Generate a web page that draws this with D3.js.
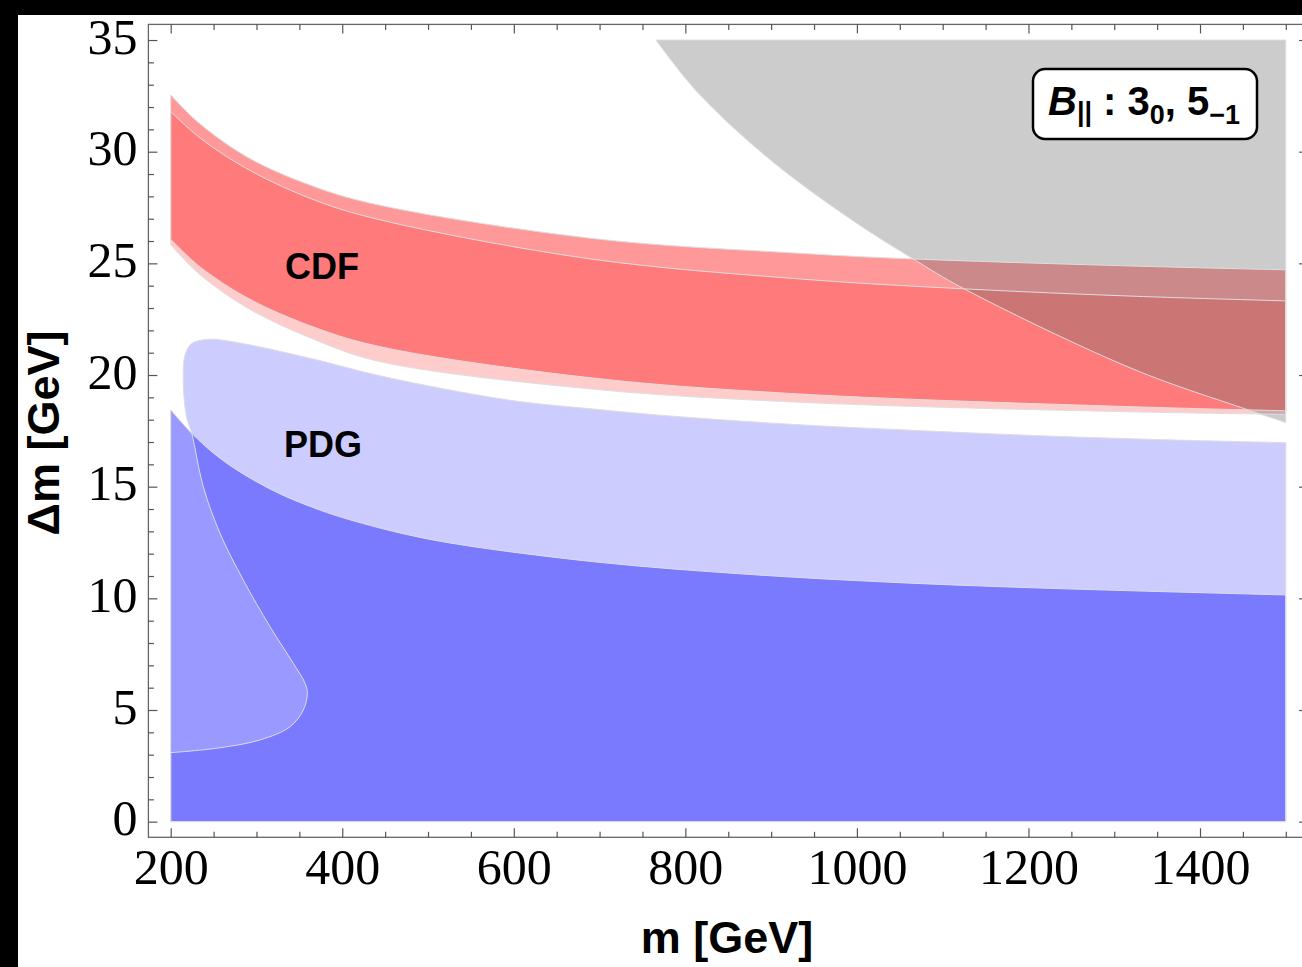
<!DOCTYPE html>
<html>
<head>
<meta charset="utf-8">
<script src="https://cdn.jsdelivr.net/npm/d3@7"></script>
<style>
  body { margin: 0; background: #fff; }
  svg { display: block; }
</style>
</head>
<body>
<div id="chart"></div>
<script>
// region boundaries, as [m, Δm] in GeV

// CDF, wide band (light)
const cdfWideLower = [[200, 25.83], [234, 24.5], [292, 22.95], [370, 21.55], [444, 20.6], [689, 19.38], [934, 18.78], [1322, 18.35], [1500, 18.24]];
const cdfWideUpper = [[200, 31.8], [234, 30.62], [292, 29.17], [370, 27.8], [444, 26.95], [689, 25.2], [934, 24.3], [1124, 23.86], [1322, 23.53], [1500, 23.32]];

// CDF, second band (darker)
const cdfBandLower = [[200, 26.08], [234, 24.85], [292, 23.4], [370, 22.1], [444, 21.27], [689, 19.88], [934, 19.15], [1322, 18.58], [1500, 18.4]];
const cdfBandUpper = [[200, 32.54], [234, 31.25], [292, 29.7], [370, 28.4], [444, 27.6], [695, 26.1], [934, 25.45], [1064, 25.2], [1322, 24.88], [1500, 24.71]];

// PDG, light region: pocket edge then top edge
const pdgOuterEdge = [[200, 3.09], [253.6, 3.29], [304.1, 3.66], [339.1, 4.25], [354.6, 5.0], [359.3, 5.75], [356.6, 6.2], [342.9, 7.09],
  [315.8, 8.73], [284.6, 10.82], [257.5, 12.91], [238, 15.0], [224.5, 17.39], [218.6, 18.1], [214.7, 19.6], [216.7, 20.9],
  [224, 21.4], [234, 21.55], [250, 21.6], [292, 21.35], [370, 20.68], [448, 19.93], [594, 18.88], [689, 18.49], [787, 18.15],
  [934, 17.77], [1039, 17.57], [1200, 17.3], [1350, 17.11], [1500, 16.97]];

// PDG, second region: top edge
const pdgInnerTop = [[200, 18.44], [224.5, 17.39], [250, 16.5], [273, 15.85], [300, 15.22], [330, 14.63], [365, 14.08], [400, 13.62],
  [467, 12.93], [535, 12.42], [703, 11.6], [871, 11.08], [1039, 10.72], [1207, 10.47], [1500, 10.15]];

// gray excluded region, lower-left edge
const grayEdge = [[765.7, 35], [813.2, 32.7], [897, 29.7], [991.9, 27.0], [1063.8, 25.24], [1124, 23.88], [1321.8, 20.27], [1454.4, 18.46], [1500, 17.87]];

const xMajor = [200, 400, 600, 800, 1000, 1200, 1400];
const xMinor = [250, 300, 350, 450, 500, 550, 650, 700, 750, 850, 900, 950, 1050, 1100, 1150, 1250, 1300, 1350, 1450, 1500];
const yMajor = [0, 5, 10, 15, 20, 25, 30, 35];
const yMinor = d3.range(0, 36).filter(v => v % 5 !== 0);

const width = 1302;
const height = 967;

const svg = d3.select('#chart').append('svg')
  .attr('width', width)
  .attr('height', height);

const x = d3.scaleLinear().domain([174, 1526]).range([148.4, 1308.1]);
const y = d3.scaleLinear().domain([-0.7, 35.7]).range([837.3, 24.4]);

const line = d3.line().x(d => x(d[0])).y(d => y(d[1])).curve(d3.curveCatmullRom.alpha(0.5));

function band(lo, hi) {
  return line(hi) + line(lo.slice().reverse()).replace('M', 'L') + 'Z';
}

const regions = [
  { d: band(cdfWideLower, cdfWideUpper), fill: '#ff0000', op: 0.2 },
  { d: band(cdfBandLower, cdfBandUpper), fill: '#ff0000', op: 0.4 },
  { d: line(pdgOuterEdge) + `L${x(1500)},${y(0)}L${x(200)},${y(0)}Z`, fill: '#0000ff', op: 0.2 },
  { d: `M${x(200)},${y(0)}` + line(pdgInnerTop).replace('M', 'L') + `L${x(1500)},${y(0)}Z`, fill: '#0000ff', op: 0.4 },
  { d: line(grayEdge) + `L${x(1500)},${y(35)}Z`, fill: 'rgb(110,110,110)', op: 0.35 }
];

const plot = svg.append('g');
plot.selectAll('path.fill')
  .data(regions)
  .join('path')
  .attr('class', 'fill')
  .attr('d', d => d.d)
  .attr('fill', d => d.fill)
  .attr('fill-opacity', d => d.op)
  .attr('stroke', 'none');

// thin light boundary lines on top
plot.selectAll('path.edge')
  .data(regions)
  .join('path')
  .attr('class', 'edge')
  .attr('d', d => d.d)
  .attr('fill', 'none')
  .attr('stroke', '#dedede')
  .attr('stroke-width', 1);

// frame
const x0 = x.range()[0], x1 = x.range()[1], y0 = y.range()[0], y1 = y.range()[1];
svg.append('rect')
  .attr('x', x0).attr('y', y1)
  .attr('width', x1 - x0).attr('height', y0 - y1)
  .attr('fill', 'none')
  .attr('stroke', '#666')
  .attr('stroke-width', 1.3);

function ticks(axis, tx, ty, values, size, labels) {
  const g = svg.append('g')
    .attr('transform', `translate(${tx},${ty})`)
    .call(axis.tickValues(values).tickSize(-size).tickFormat(labels ? d3.format('d') : ''));
  g.select('.domain').remove();
  g.selectAll('.tick line').attr('stroke', '#555').attr('stroke-width', 1.2);
  return g;
}

const gx = ticks(d3.axisBottom(x), 0, y0, xMajor, 9, true);
ticks(d3.axisBottom(x), 0, y0, xMinor, 5.5, false);
ticks(d3.axisTop(x), 0, y1, xMajor, 9, false);
ticks(d3.axisTop(x), 0, y1, xMinor, 5.5, false);
const gy = ticks(d3.axisLeft(y), x0, 0, yMajor, 9, true);
ticks(d3.axisLeft(y), x0, 0, yMinor, 5.5, false);
ticks(d3.axisRight(y), x1, 0, yMajor, 9, false);
ticks(d3.axisRight(y), x1, 0, yMinor, 5.5, false);

gx.selectAll('text')
  .attr('dy', null).attr('y', 47)
  .attr('fill', '#000')
  .style('font', '50px "Liberation Serif", "Times New Roman", serif');
gy.selectAll('text')
  .attr('dy', null).attr('y', 13).attr('x', -11)
  .attr('fill', '#000')
  .style('font', '50px "Liberation Serif", "Times New Roman", serif');

// axis titles
const sans = '"Liberation Sans", Arial, Helvetica, sans-serif';
svg.append('text')
  .attr('x', 727).attr('y', 953)
  .attr('text-anchor', 'middle')
  .style('font', `bold 45px ${sans}`)
  .text('m [GeV]');
svg.append('text')
  .attr('transform', 'translate(59,433) rotate(-90)')
  .attr('text-anchor', 'middle')
  .style('font', `bold 45px ${sans}`)
  .text('Δm [GeV]');

// region labels
svg.append('text').attr('x', 285).attr('y', 279)
  .style('font', `bold 36px ${sans}`).text('CDF');
svg.append('text').attr('x', 284).attr('y', 457)
  .style('font', `bold 36px ${sans}`).text('PDG');

// legend box
svg.append('rect')
  .attr('x', 1033).attr('y', 69)
  .attr('width', 224).attr('height', 70)
  .attr('rx', 12)
  .attr('fill', '#fff')
  .attr('stroke', '#000')
  .attr('stroke-width', 2.5);
const leg = svg.append('text')
  .attr('x', 1048).attr('y', 115)
  .style('font', `bold 40px ${sans}`);
leg.append('tspan').style('font-style', 'italic').text('B');
leg.append('tspan').attr('font-size', 27).attr('dy', 6).text('||');
leg.append('tspan').attr('dy', -6).text(' : 3');
leg.append('tspan').attr('font-size', 27).attr('dy', 9).text('0');
leg.append('tspan').attr('dy', -9).text(', 5');
leg.append('tspan').attr('font-size', 27).attr('dy', 9).text('\u22121');

// black strips along top and left edge of the picture
svg.append('rect').attr('x', 0).attr('y', 0).attr('width', width).attr('height', 15).attr('fill', '#000');
svg.append('rect').attr('x', 0).attr('y', 0).attr('width', 18).attr('height', height).attr('fill', '#000');
</script>
</body>
</html>
